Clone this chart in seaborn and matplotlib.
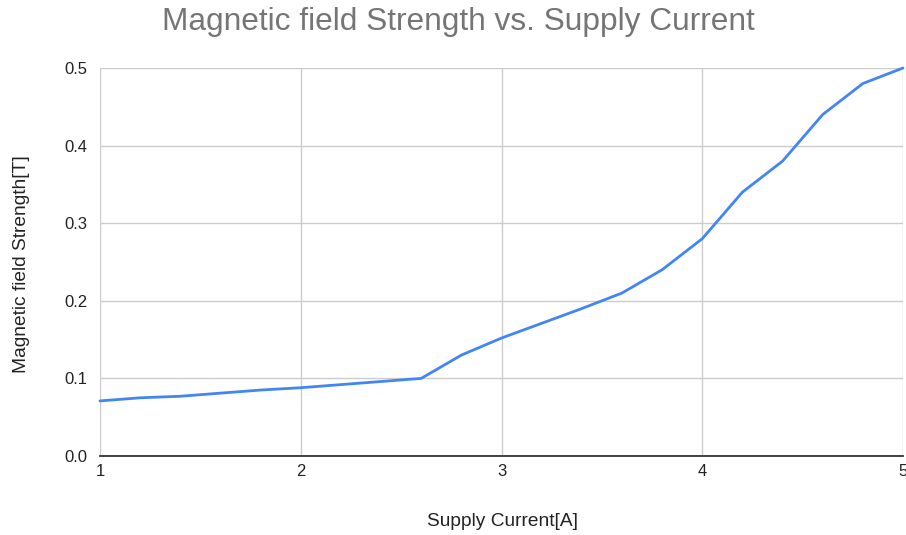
import matplotlib
matplotlib.use("Agg")
import matplotlib.pyplot as plt
import seaborn as sns
import pandas as pd

# Measured supply current [A] and resulting magnetic field strength [T]
current = [1.0, 1.2, 1.4, 1.6, 1.8, 2.0, 2.2, 2.4, 2.6, 2.8, 3.0,
           3.2, 3.4, 3.6, 3.8, 4.0, 4.2, 4.4, 4.6, 4.8, 5.0]
field = [0.071, 0.075, 0.077, 0.081, 0.085, 0.088, 0.092, 0.096, 0.100, 0.130, 0.152,
         0.171, 0.190, 0.210, 0.240, 0.280, 0.340, 0.380, 0.440, 0.480, 0.500]
x_ticks = [1, 2, 3, 4, 5]
y_ticks = [0.0, 0.1, 0.2, 0.3, 0.4, 0.5]

df = pd.DataFrame({"current": current, "field": field})

sns.set_theme(style="white")
plt.rcParams["font.family"] = ["Liberation Sans", "DejaVu Sans"]

fig = plt.figure(figsize=(9.06, 5.35), dpi=100)
ax = fig.add_axes([100 / 906, 1 - 456 / 535, 803 / 906, 388 / 535])

sns.lineplot(data=df, x="current", y="field", ax=ax, color="#4285F4",
             linewidth=2.0, solid_joinstyle="round", solid_capstyle="round",
             clip_on=False, zorder=3)

ax.set_xlim(1, 5)
ax.set_ylim(0, 0.5)
ax.set_xticks(x_ticks)
ax.set_xticklabels([str(t) for t in x_ticks])
ax.set_yticks(y_ticks)
ax.set_yticklabels([f"{t:.1f}" for t in y_ticks])
ax.grid(True, color="#cccccc", linewidth=1.0)
ax.set_axisbelow(True)

for side in ["top", "right", "left"]:
    ax.spines[side].set_visible(False)
ax.spines["bottom"].set_color("#333333")
ax.spines["bottom"].set_linewidth(1.3)
ax.spines["bottom"].set_zorder(2)

ax.tick_params(axis="both", length=0, labelsize=12, labelcolor="#222222")
ax.tick_params(axis="x", pad=6)
ax.tick_params(axis="y", pad=9)

ax.set_xlabel("")
ax.set_ylabel("")
fig.text(502 / 906, 1 - 521 / 535, "Supply Current[A]", ha="center", va="center",
         fontsize=13.8, color="#222222")
fig.text(22 / 906, 1 - 264 / 535, "Magnetic field Strength[T]", ha="center", va="center",
         rotation=90, fontsize=13.8, color="#222222")

fig.text(458 / 906, 1 - 22 / 535, "Magnetic field Strength vs. Supply Current",
         ha="center", va="center", fontsize=22.8, color="#757575")

fig.savefig("out.png", dpi=100)
